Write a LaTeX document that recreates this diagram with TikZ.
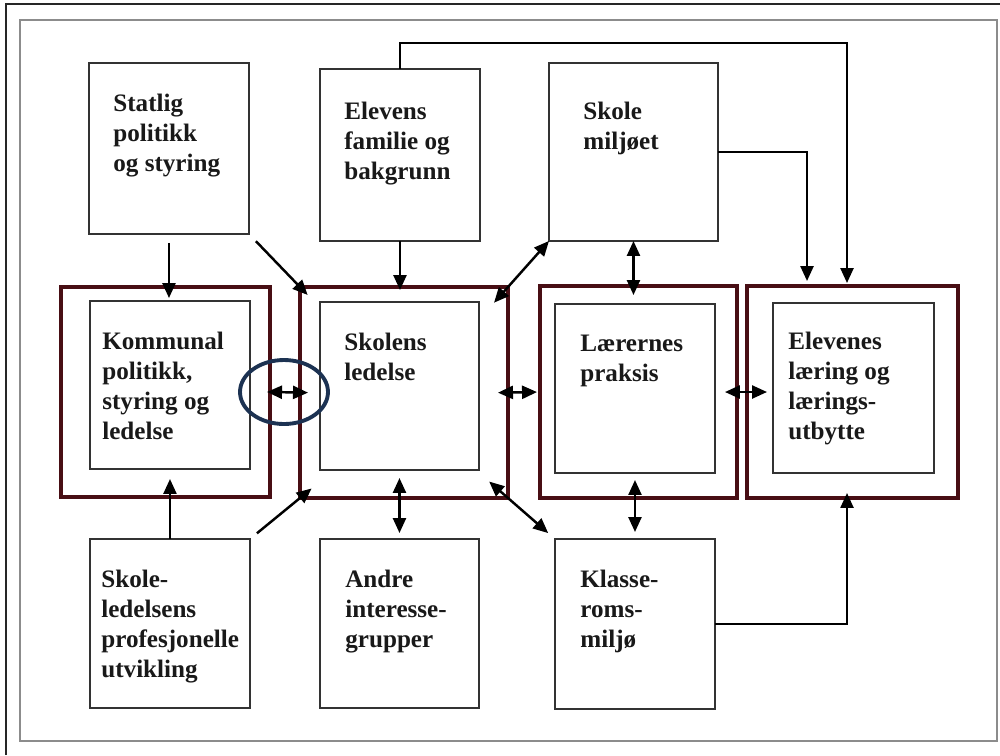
\documentclass[tikz,border=0pt]{standalone}
\usepackage{fontspec}
\setmainfont{Liberation Serif}
\usetikzlibrary{arrows.meta}
\definecolor{framered}{RGB}{72,14,20}
\definecolor{ringblue}{RGB}{28,50,82}

\begin{document}
\begin{tikzpicture}[x=0.02cm,y=-0.02cm,
  box/.style={draw=black!80,line width=1.1pt,fill=white,anchor=north west,inner sep=0pt,outer sep=0pt},
  frame/.style={draw=framered,line width=2.8pt,inner sep=0pt,outer sep=0pt},
  txt/.style={anchor=north west,align=left,inner sep=0pt,text=black!90,font=\fontsize{14.3}{17}\selectfont\bfseries},
  arr/.style={line width=1.4pt,-{Triangle[length=0.3cm,width=0.26cm]}},
  darr/.style={line width=1.4pt,{Triangle[length=0.3cm,width=0.26cm]}-{Triangle[length=0.3cm,width=0.26cm]}}]
\useasboundingbox (0,0) rectangle (1000,755);
\draw[black!85,line width=0.8pt] (6,755) -- (6,4) -- (1000,4);
\draw[black!45,line width=1.6pt] (20,20) rectangle (997,741);

\node[frame,minimum width=4.18cm,minimum height=4.2cm] (kommF) at (165.5,392) {};
\node[frame,minimum width=4.16cm,minimum height=4.22cm] (ledF) at (404,392.5) {};
\node[frame,minimum width=3.94cm,minimum height=4.24cm] (prakF) at (638.5,392) {};
\node[frame,minimum width=4.22cm,minimum height=4.24cm] (utbF) at (852.5,392) {};

\node[box,minimum width=3.2cm,minimum height=3.42cm] (stat) at (89,63) {};
\node[box,minimum width=3.2cm,minimum height=3.44cm] (fam) at (320,69) {};
\node[box,minimum width=3.38cm,minimum height=3.56cm] (milj) at (549,63) {};
\node[box,minimum width=3.2cm,minimum height=3.36cm] (komm) at (90,301) {};
\node[box,minimum width=3.18cm,minimum height=3.36cm] (led) at (320,302) {};
\node[box,minimum width=3.2cm,minimum height=3.38cm] (prak) at (555,304) {};
\node[box,minimum width=3.22cm,minimum height=3.4cm] (utb) at (773,303) {};
\node[box,minimum width=3.2cm,minimum height=3.38cm] (prof) at (90,539) {};
\node[box,minimum width=3.18cm,minimum height=3.38cm] (andre) at (320,539) {};
\node[box,minimum width=3.2cm,minimum height=3.4cm] (klasse) at (555,539) {};

\node[txt] (statT) at ([shift={(24,31)}]stat.north west) {Statlig\\politikk\\og styring};
\node[txt] (famT) at ([shift={(24,33)}]fam.north west) {Elevens\\familie og\\bakgrunn};
\node[txt] (miljT) at ([shift={(34,39)}]milj.north west) {Skole\\miljøet};
\node[txt] (kommT) at ([shift={(12,31)}]komm.north west) {Kommunal\\politikk,\\styring og\\ledelse};
\node[txt] (ledT) at ([shift={(24,31)}]led.north west) {Skolens\\ledelse};
\node[txt] (prakT) at ([shift={(25,31)}]prak.north west) {Lærernes\\praksis};
\node[txt] (utbT) at ([shift={(15,29)}]utb.north west) {Elevenes\\læring og\\lærings-\\utbytte};
\node[txt] (profT) at ([shift={(11,31)}]prof.north west) {Skole-\\ledelsens\\profesjonelle\\utvikling};
\node[txt] (andreT) at ([shift={(25,31)}]andre.north west) {Andre\\interesse-\\grupper};
\node[txt] (klasseT) at ([shift={(25,31)}]klasse.north west) {Klasse-\\roms-\\miljø};

\coordinate (topline) at (847,43);
\draw[arr,shorten <=0.18cm,shorten >=-0.22cm] (stat.south) -- (stat.south |- kommF.north);
\draw[arr,shorten <=0.2cm,shorten >=-0.22cm] (stat.south east) -- (ledF.north west);
\draw[arr,shorten >=-0.06cm] (fam.south) -- (fam.south |- ledF.north);
\draw[darr,shorten <=-0.42cm] (ledF.north east) -- (milj.south west);
\draw[darr,shorten >=-0.18cm] (milj.south) -- (milj.south |- prakF.north);
\draw[arr,shorten >=0.1cm] (milj.east) -| ([xshift=-0.91cm]utbF.north);
\draw[arr,shorten >=0.06cm] (fam.north) |- (topline) -- (topline |- utbF.north);
\draw[darr,shorten <=-0.06cm,shorten >=-0.16cm] (kommF.east) -- (ledF.west);
\draw[darr,shorten <=-0.2cm,shorten >=0.06cm] (ledF.east) -- (prakF.west);
\draw[darr,shorten <=-0.24cm,shorten >=-0.4cm] (prakF.east) -- (utbF.west);
\draw[arr,shorten >=-0.36cm] (prof.north) -- (prof.north |- kommF.south);
\draw[arr,shorten <=0.18cm,shorten >=-0.3cm] (prof.north east) -- (ledF.south west);
\draw[darr,shorten <=0.12cm,shorten >=-0.4cm] (andre.north) -- (andre.north |- ledF.south);
\draw[darr,shorten <=-0.5cm,shorten >=0.18cm] (ledF.south east) -- (klasse.north west);
\draw[darr,shorten <=0.14cm,shorten >=-0.36cm] (klasse.north) -- (klasse.north |- prakF.south);
\draw[arr,shorten >=-0.1cm] (klasse.east) -| ([xshift=-0.11cm]utbF.south);
\draw[ringblue,line width=2.2pt] (284,392) ellipse [x radius=0.88cm,y radius=0.64cm];
\end{tikzpicture}
\end{document}
